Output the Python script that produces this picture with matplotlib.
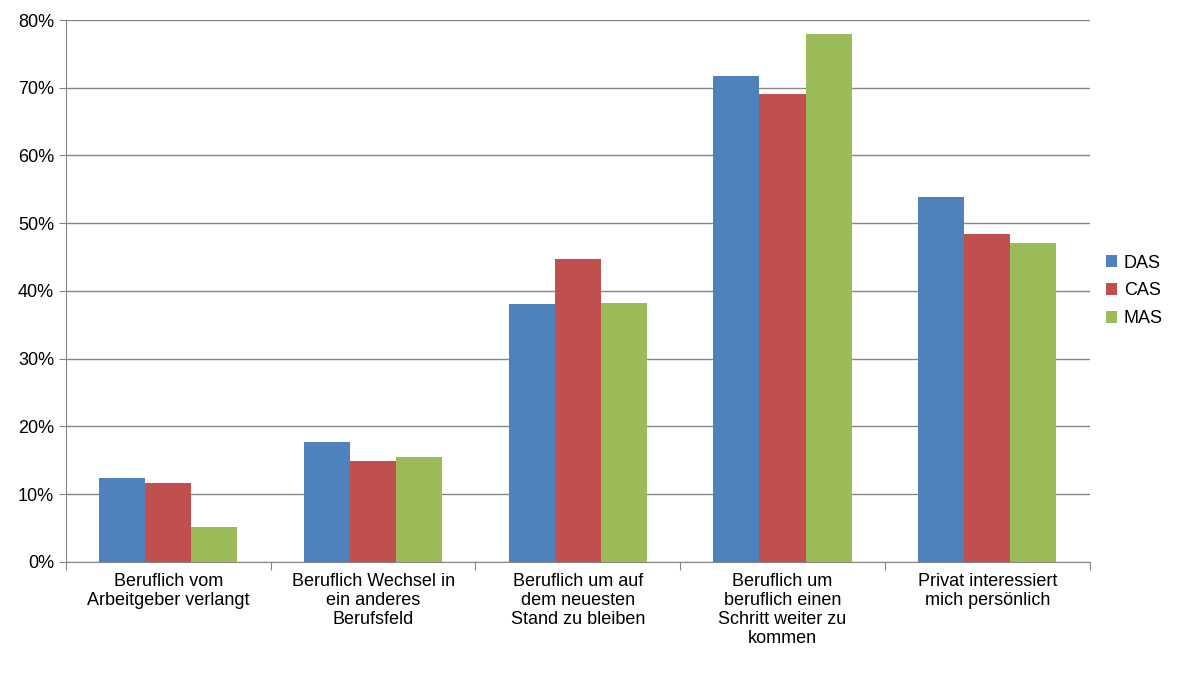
import matplotlib
matplotlib.use("Agg")
import matplotlib.pyplot as plt
import numpy as np

categories = ["Beruflich vom\nArbeitgeber verlangt", "Beruflich Wechsel in\nein anderes\nBerufsfeld",
              "Beruflich um auf\ndem neuesten\nStand zu bleiben", "Beruflich um\nberuflich einen\nSchritt weiter zu\nkommen",
              "Privat interessiert\nmich persönlich"]
series_names = ["DAS", "CAS", "MAS"]
das = [12.3, 17.7, 38.0, 71.7, 53.9]
cas = [11.6, 14.9, 44.7, 69.1, 48.4]
mas = [5.1, 15.4, 38.2, 77.9, 47.1]
colors = ["#4F81BD", "#C0504D", "#9BBB59"]

plt.rcParams['font.family'] = ['Liberation Sans', 'DejaVu Sans']
fig = plt.figure(figsize=(12, 6.91), dpi=100)
ax = fig.add_axes([0.055, 0.187, 0.853, 0.784])
x = np.arange(len(categories))
w = 0.225
for i, (vals, c, n) in enumerate(zip([das, cas, mas], colors, series_names)):
    ax.bar(x + (i - 1) * w, vals, w, color=c, label=n, zorder=3)
ax.set_xlim(-0.5, len(categories) - 0.5)
ax.set_ylim(0, 80)
ax.set_yticks(range(0, 81, 10))
ax.set_yticklabels([f"{v}%" for v in range(0, 81, 10)], fontsize=13)
ax.yaxis.grid(True, color="#868686", linewidth=1, zorder=0)
ax.set_xticks(np.arange(-0.5, len(categories), 1))
ax.set_xticklabels([])
ax.set_xticks(x, minor=True)
ax.set_xticklabels(categories, minor=True, fontsize=13, linespacing=1.15)
ax.tick_params(axis="x", which="minor", length=0, pad=8)
ax.tick_params(axis="x", which="major", length=6, color="#868686")
ax.tick_params(axis="y", length=5, color="#868686")
for s in ["top", "right"]:
    ax.spines[s].set_visible(False)
for s in ["left", "bottom"]:
    ax.spines[s].set_color("#868686")
ax.legend(loc="center left", bbox_to_anchor=(1.0, 0.5), frameon=False, fontsize=13,
          handlelength=0.6, handleheight=0.6, handletextpad=0.4, labelspacing=0.6)
fig.savefig("out.png")
